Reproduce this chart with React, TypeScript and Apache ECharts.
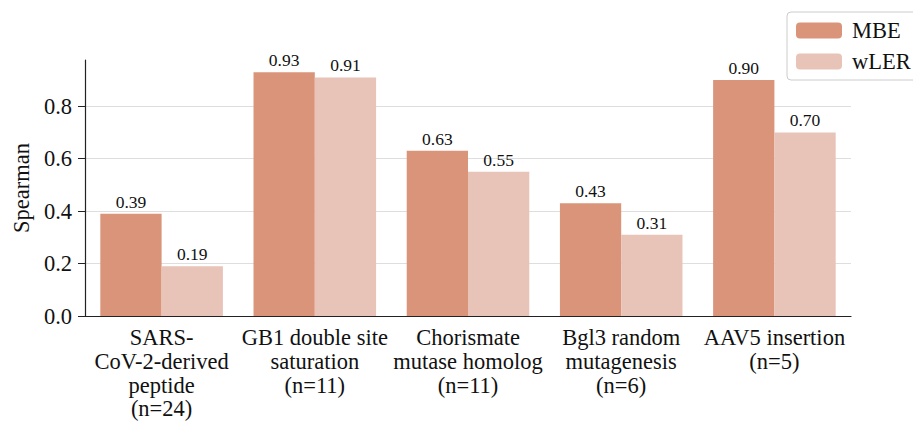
import React, { useEffect, useRef } from "react";
import * as echarts from "echarts";

const categories = [
  "SARS-\nCoV-2-derived\npeptide\n(n=24)",
  "GB1 double site\nsaturation\n(n=11)",
  "Chorismate\nmutase homolog\n(n=11)",
  "Bgl3 random\nmutagenesis\n(n=6)",
  "AAV5 insertion\n(n=5)",
];
const mbe = [0.39, 0.93, 0.63, 0.43, 0.9];
const wler = [0.19, 0.91, 0.55, 0.31, 0.7];
const yTicks = [0, 0.2, 0.4, 0.6, 0.8];

const FONT = "Liberation Serif";

export default function App() {
  const ref = useRef<HTMLDivElement>(null);
  useEffect(() => {
    const chart = echarts.init(ref.current!, null, { renderer: "svg" });
    const label = {
      show: true,
      position: "top" as const,
      distance: 3,
      fontFamily: FONT,
      fontSize: 17.5,
      color: "#111",
      formatter: (p: any) => p.value.toFixed(2),
    };
    chart.setOption({
      animation: false,
      textStyle: { fontFamily: FONT },
      grid: { left: 85, right: 62, top: 60, bottom: 105 },
      legend: {
        orient: "vertical",
        left: 787,
        top: 12,
        padding: [7, 20, 7, 9],
        itemGap: 8,
        itemWidth: 46,
        itemHeight: 16,
        borderColor: "#cccccc",
        borderWidth: 1,
        borderRadius: 4,
        textStyle: { fontFamily: FONT, fontSize: 22.5, color: "#111", padding: [0, 0, 0, 5] },
        data: ["MBE", "wLER"],
      },
      xAxis: {
        type: "category",
        data: categories,
        axisLine: { lineStyle: { color: "#222", width: 1.2 } },
        axisTick: { alignWithLabel: true, length: 6, lineStyle: { color: "#222" } },
        axisLabel: {
          fontFamily: FONT,
          fontSize: 22.5,
          color: "#111",
          lineHeight: 23.7,
          margin: 10,
          interval: 0,
        },
      },
      yAxis: {
        type: "value",
        min: 0,
        max: 0.9765,
        name: "Spearman",
        nameLocation: "middle",
        nameGap: 52,
        nameTextStyle: { fontFamily: FONT, fontSize: 22.5, color: "#111" },
        axisLine: { show: true, lineStyle: { color: "#222", width: 1.2 } },
        axisTick: { show: true, length: 7, lineStyle: { color: "#222" }, customValues: yTicks },
        axisLabel: {
          fontFamily: FONT,
          fontSize: 22.5,
          color: "#111",
          margin: 13,
          customValues: yTicks,
          formatter: (v: number) => v.toFixed(1),
        },
        splitLine: { show: true, lineStyle: { color: "#dedede", width: 1 } },
      },
      series: [
        {
          name: "MBE",
          type: "bar",
          data: mbe,
          barGap: "0%",
          barCategoryGap: "20%",
          itemStyle: { color: "#d99479" },
          label,
        },
        {
          name: "wLER",
          type: "bar",
          data: wler,
          itemStyle: { color: "#e8c3b7" },
          label,
        },
      ],
    });
    return () => chart.dispose();
  }, []);
  return (
    <div
      ref={ref}
      style={{ position: "absolute", left: 0, top: 0, width: 913, height: 421, overflow: "hidden" }}
    />
  );
}
